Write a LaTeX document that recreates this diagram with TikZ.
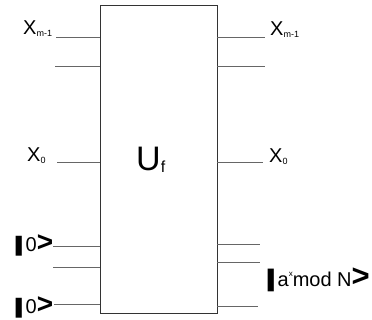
\documentclass[tikz,border=0pt]{standalone}
\usepackage{fontspec}
\setmainfont{Liberation Sans}
\usetikzlibrary{positioning}
\tikzset{
 gatebox/.style={draw=black!80,line width=0.8pt,minimum width=117pt,minimum height=308pt,inner sep=0pt},
 wire/.style={draw=black!60,line width=0.8pt},
 lbl/.style={inner sep=0pt,font=\fontsize{20}{20}\selectfont}}
\newcommand{\xsub}[2]{#1\raisebox{-2pt}{\fontsize{9}{9}\selectfont #2}}
\newcommand{\ketbar}{\scalebox{2.4}[1.05]{\bfseries|}}
\newcommand{\ketend}[1][1.4]{\scalebox{#1}{\bfseries>}}

\begin{document}
\begin{tikzpicture}[x=1pt,y=-1pt]
\useasboundingbox (0,0) rectangle (372,320);
\node[gatebox] (uf) at (158.5,159) {};
\node[lbl,anchor=base west,font=\fontsize{34}{34}\selectfont] (ulbl) at (136,171) {U\raisebox{-1.5pt}{\fontsize{16}{16}\selectfont f}};
% free ends of the wires
\coordinate (inA) at (56,37);
\coordinate (inB) at (55,66);
\coordinate (inC) at (57,162);
\coordinate (inD) at (53,246);
\coordinate (inE) at (53,267);
\coordinate (inF) at (54,304);
\coordinate (outA) at (265,37);
\coordinate (outB) at (265,66);
\coordinate (outC) at (263,162);
\coordinate (outD) at (260,244);
\coordinate (outE) at (260,262);
\coordinate (outF) at (258,306);
\foreach \p in {A,B,C,D,E,F} {
 \draw[wire] (in\p) -- (in\p -| uf.west);
 \draw[wire] (uf.east |- out\p) -- (out\p);
}
% labels
\node[lbl,anchor=base west] (xmL) at (23,35) {\xsub{X}{m-1}};
\node[lbl,anchor=base west] (xmR) at (270,36) {\xsub{X}{m-1}};
\node[lbl,anchor=base west] (x0L) at (27,162) {\xsub{X}{0}};
\node[lbl,anchor=base west] (x0R) at (269,163) {\xsub{X}{0}};
\node[lbl,anchor=base west] (k0a) at (12,252) {\ketbar0\ketend};
\node[lbl,anchor=base west] (k0b) at (12,313) {\ketbar0\ketend};
\node[lbl,anchor=base west] (kout) at (264,287) {\scalebox{2.4}[1.2]{\bfseries|}a\raisebox{10pt}{\fontsize{8}{8}\selectfont x}mod N\ketend[1.55]};
\end{tikzpicture}
\end{document}
